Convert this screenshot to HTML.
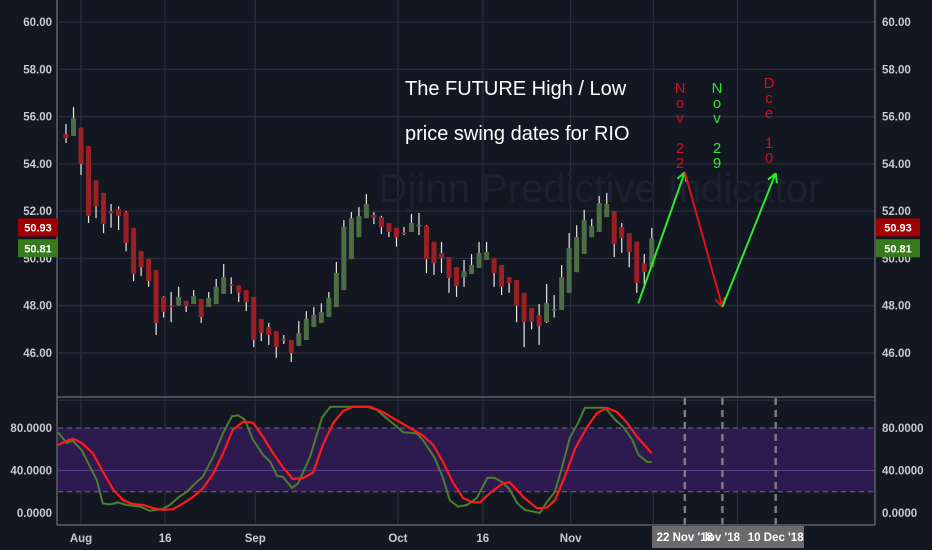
<!DOCTYPE html>
<html><head><meta charset="utf-8"><style>
html,body{margin:0;padding:0;background:#131722;}
svg{display:block;font-family:"Liberation Sans",sans-serif;}
</style></head><body>
<svg id="chart" width="932" height="550" viewBox="0 0 932 550" xmlns="http://www.w3.org/2000/svg">
<rect x="0" y="0" width="932" height="550" fill="#131722"/>
<g id="grid"></g>
<text x="600" y="202" font-size="40" fill="#1c2030" text-anchor="middle">Djinn Predictive Indicator</text>
<g id="osc-band"></g>
<g id="candles"></g>
<g id="osc"></g>
<g id="axes"></g>
<text x="405" y="95" font-size="20" fill="#ffffff">The FUTURE High / Low</text>
<text x="405" y="140" font-size="20" fill="#ffffff">price swing dates for RIO</text>
<g id="annot"></g>
</svg>
<script>
// ---- data ----
const priceTicks = [60, 58, 56, 54, 52, 50, 48, 46];
const oscTicks = [80, 40, 0];
const timeLabels = ['Aug', '16', 'Sep', 'Oct', '16', 'Nov'];
const timeLabelIdx = [2, 13.2, 25.2, 44.2, 55.5, 67.2];
const openP = [55.26,55.18,55.53,54.75,53.3,52.77,52.0,52.1,51.96,51.29,50.31,49.97,49.5,48.37,48.0,48.03,48.2,48.07,48.28,47.95,48.07,48.5,48.9,48.85,48.66,48.37,47.44,47.1,46.93,46.6,46.55,46.3,46.55,47.1,47.27,47.52,47.94,48.66,49.97,50.9,51.71,51.84,51.75,51.5,51.29,51.1,51.12,51.4,51.37,50.7,50.23,50.06,49.63,49.2,49.34,49.6,49.93,50.0,49.72,49.2,49.08,48.54,47.9,47.6,47.31,47.8,47.82,48.54,49.42,50.19,50.9,51.12,51.75,52.0,51.33,51.07,50.7,49.8,49.63];
const closeP = [55.09,55.94,54.0,51.8,52.2,51.45,51.9,51.8,50.65,49.34,49.63,49.04,47.27,47.73,47.95,48.37,47.99,48.41,47.52,48.33,48.8,49.2,48.87,48.55,48.15,46.55,46.84,46.76,46.25,46.55,46.0,46.84,47.44,47.6,47.73,48.33,49.38,51.33,51.7,51.79,52.3,51.71,51.33,51.12,50.9,51.08,51.5,51.42,49.97,49.8,50.0,49.17,48.83,49.46,49.72,50.23,50.27,49.38,48.8,48.96,47.99,47.31,47.31,47.14,48.11,47.85,49.21,50.44,50.9,51.62,51.37,52.34,52.3,50.6,50.86,50.27,48.96,49.42,50.86];
const highP = [55.69,56.4,55.53,54.75,53.3,52.77,52.3,52.2,52.0,51.29,50.31,49.97,49.5,48.4,48.58,48.8,48.2,48.66,48.28,48.58,49.13,49.76,49.2,48.85,48.66,48.37,47.44,47.27,46.93,46.76,46.55,47.35,47.77,47.94,48.1,48.58,49.85,51.62,51.96,52.17,52.72,51.96,51.8,51.5,51.29,51.33,51.88,51.92,51.4,50.7,50.7,50.06,49.63,49.93,50.18,50.7,50.7,50.0,49.72,49.2,49.08,48.54,47.9,48.07,48.92,48.45,49.72,51.07,51.4,52.05,51.67,52.64,52.77,52.0,51.5,51.07,50.7,50.18,51.29];
const lowP = [54.88,55.18,53.53,51.5,51.7,51.07,51.3,51.2,50.3,49.04,49.25,48.8,46.76,47.5,47.3,48.0,47.73,48.07,47.27,47.95,48.07,48.5,48.5,48.15,47.77,46.25,46.5,46.34,45.79,46.38,45.62,46.3,46.55,47.1,47.27,47.52,47.94,48.66,49.97,50.9,51.7,51.45,51.03,50.9,50.5,50.98,51.12,50.99,49.38,49.3,49.38,48.54,48.37,48.8,49.34,49.6,49.93,48.8,48.45,48.54,47.3,46.25,47.0,46.34,47.27,47.5,47.82,48.54,49.42,50.19,50.9,51.12,51.75,50.06,50.23,49.63,48.54,48.75,49.63];
const fastIdx = [-1.1,0.1,0.9,2.1,4.1,4.9,5.9,6.9,8.1,9.9,11.2,12.9,13.8,15.2,16.1,17.2,18.2,19.6,20.9,22.1,22.9,23.8,24.9,26.2,27.2,28.1,28.9,30.1,30.9,32.5,34.1,35.2,40.1,41.4,42.7,44.1,44.9,46.7,47.5,49.1,50.2,51.1,52.2,53.4,54.7,56.1,57.1,58.1,59.1,60.1,61.1,63.1,64.0,65.1,66.0,67.1,68.2,69.1,71.8,73.1,74.2,75.4,76.2,77.4,78.0];
const fastVal = [76,66,68,59,31,9,8,10,7.5,6,2,4,7.5,16,20,28,34,53,75,91,92,88,69,55,48,35,34,23.5,28,53,90,100,100,97,89,81,76,75,69,52,33,12,6,7.5,14,33,33,29,22,9,3,0,10,20,42,71,85,99,99,88,81,69,55,48,48];
const slowIdx = [-1.1,0.1,0.9,2.1,3.6,4.9,6.3,7.6,8.9,10.3,11.6,12.9,14.2,15.6,16.9,18.2,19.6,20.9,22.2,23.6,24.9,26.2,27.6,28.9,30.2,31.6,32.9,34.2,35.6,36.9,38.2,40.5,42.2,44.1,45.8,47.5,48.9,50.2,51.5,52.9,54.2,55.1,56.5,58.2,59.1,60.9,62.7,64.0,65.1,66.4,67.8,69.4,70.7,72.0,73.4,74.7,76.0,77.4,78.0];
const slowVal = [64,68,70,66,56,39,22,12,8.5,7.5,4.5,3,3.5,9,15,23,37,56,78,86,85,72,56,43,32,33,38,64,85,96,100,100,95,87,80,73,64,48,29,14,10,10,19,28,29,15,4.5,5,12,34,61,81,94,99,95,85,72,61,56];
const futureLabels = ['22 Nov \'18', 'lov \'18', '10 Dec \'18'];
const futureIdx = [82.4, 87.4, 94.5];
const swingPrices = [48.1, 53.65, 47.95, 53.6];
const swingIdx = [76.2, 82.4, 87.4, 94.5];

// ---- scales ----
const NS = 'http://www.w3.org/2000/svg';
const X0 = 66, STEP = 7.51;
function xs(i){ return X0 + i*STEP; }
function yp(p){ return 22 + (60 - p)*23.64; }
function yo(v){ return 513 - v*1.0625; }
function mk(tag, attrs, parent){
  const e = document.createElementNS(NS, tag);
  for (const k in attrs) e.setAttribute(k, attrs[k]);
  parent.appendChild(e); return e;
}
const grid = document.getElementById('grid');
const axes = document.getElementById('axes');
const cg = document.getElementById('candles');
const og = document.getElementById('osc');
const band = document.getElementById('osc-band');
const ann = document.getElementById('annot');

// grid
priceTicks.concat([44]).forEach(p=>{
  const l = mk('line',{x1:58,x2:875,y1:yp(p),y2:yp(p),stroke:'#2a2e3b','stroke-width':1.3},grid);
  
  
});
timeLabelIdx.concat([78.2, 89.4]).forEach(i=>{
  const l = mk('line',{x1:xs(i),x2:xs(i),y1:0,y2:525,stroke:'#2a2e3b','stroke-width':1.3},grid);
  
  
});

// oscillator band
const br = mk('rect',{x:58,y:yo(80),width:817,height:yo(20)-yo(80),fill:'#2d1a4e'},band);


[80,20].forEach(v=>{
  const l = mk('line',{x1:58,x2:875,y1:yo(v),y2:yo(v),stroke:'#6b6b78','stroke-dasharray':'5,4','stroke-width':1},band);
  
  
});
const ml = mk('line',{x1:58,x2:875,y1:yo(40),y2:yo(40),stroke:'#5a3e8a','stroke-width':1},band);


futureIdx.forEach(i=>{
  const l = mk('line',{x1:xs(i),x2:xs(i),y1:398,y2:525,stroke:'#7a7a80','stroke-dasharray':'7,5','stroke-width':2.5},band);
  
  
});

// candles
for (let i=0;i<openP.length;i++){
  const up = closeP[i] >= openP[i];
  const x = xs(i);
  const w = mk('line',{x1:x,x2:x,y1:yp(highP[i]),y2:yp(lowP[i]),stroke:'#e8e8e8','stroke-width':1.2},cg);
  
  
  const top = yp(Math.max(openP[i],closeP[i])), bot = yp(Math.min(openP[i],closeP[i]));
  const b = mk('rect',{x:x-2.5,y:top,width:5,height:Math.max(1.5,bot-top),fill:up?'#4d6e45':'#9a2024'},cg);
  
  
}

// oscillator lines
function path(idx, val){ return idx.map((i,k)=>(k?'L':'M')+xs(i).toFixed(1)+','+yo(val[k]).toFixed(1)).join(''); }
const fp = mk('path',{d:path(fastIdx,fastVal),fill:'none',stroke:'#4a7f2e','stroke-width':2},og);


const sp = mk('path',{d:path(slowIdx,slowVal),fill:'none',stroke:'#ff1a1a','stroke-width':2.2,'stroke-linejoin':'round'},og);



// axes lines
[[57,0,57,525],[875,0,875,525],[57,397,875,397],[57,525,875,525]].forEach(c=>{
  const l = mk('line',{x1:c[0],y1:c[1],x2:c[2],y2:c[3],stroke:'#5d606b','stroke-width':1.5},axes);
  
  
});
priceTicks.forEach(p=>{
  const t1 = mk('text',{x:52,y:yp(p)+4,'font-size':11.5,fill:'#c8cad0','text-anchor':'end','font-weight':'bold'},axes);
  t1.textContent = p.toFixed(2);
  
  
  const t2 = mk('text',{x:882,y:yp(p)+4,'font-size':11.5,fill:'#c8cad0','font-weight':'bold'},axes);
  t2.textContent = p.toFixed(2);
  
  
});
oscTicks.forEach(v=>{
  const t1 = mk('text',{x:52,y:yo(v)+4,'font-size':11.5,fill:'#c8cad0','text-anchor':'end','font-weight':'bold'},axes);
  t1.textContent = v.toFixed(4);
  
  
  const t2 = mk('text',{x:882,y:yo(v)+4,'font-size':11.5,fill:'#c8cad0','font-weight':'bold'},axes);
  t2.textContent = v.toFixed(4);
  
  
});
timeLabels.forEach((s,k)=>{
  const t = mk('text',{x:xs(timeLabelIdx[k]),y:542,'font-size':11.5,fill:'#c8cad0','text-anchor':'middle','font-weight':'bold'},axes);
  t.textContent = s;
  
  
});
// last price labels
[[50.93,'#a00000'],[50.81,'#3a7a1e']].forEach(a=>{
  const y = yp(a[0]);
  const off = a[0] > 50.9 ? -9 : 9;
  [[18,40],[876,44]].forEach(b=>{
    const r = mk('rect',{x:b[0],y:y+off-9,width:b[1],height:18,fill:a[1]},axes);
    
    
    const t = mk('text',{x:b[0]+b[1]/2,y:y+off+4,'font-size':11,fill:'#ffffff','text-anchor':'middle','font-weight':'bold'},axes);
    t.textContent = a[0].toFixed(2);
    
    
  });
});
// future date box
const fb = mk('rect',{x:652,y:526,width:152,height:22,fill:'#6b6b6e'},axes);


futureLabels.forEach((s,k)=>{
  const t = mk('text',{x:xs(futureIdx[k]),y:541,'font-size':11.5,fill:'#ffffff','text-anchor':'middle','font-weight':'bold'},axes);
  t.textContent = s;
  
  
});

// swing arrows
for (let k=0;k<swingIdx.length-1;k++){
  const x1=xs(swingIdx[k]), y1=yp(swingPrices[k]), x2=xs(swingIdx[k+1]), y2=yp(swingPrices[k+1]);
  const col = y2 < y1 ? '#2ee82e' : '#e0101a';
  const l = mk('line',{x1:x1,y1:y1,x2:x2,y2:y2,stroke:col,'stroke-width':2},ann);
  
  
  const a = Math.atan2(y2-y1,x2-x1);
  [0.5,-0.5].forEach(d=>{
    const h = mk('line',{x1:x2,y1:y2,x2:x2-10*Math.cos(a+d),y2:y2-10*Math.sin(a+d),stroke:col,'stroke-width':2},ann);
    
    
  });
}
// vertical date annotations
[['Nov 22',680,88,'#d0101a'],['Nov 29',717,88,'#2ee82e'],['Dce 10',769,83,'#d0101a']].forEach(a=>{
  const chars = a[0].split('');
  chars.forEach((c,j)=>{
    if(c===' ') return;
    const t = mk('text',{x:a[1],y:a[2]+j*15+5,'font-size':15,fill:a[3],'text-anchor':'middle'},ann);
    t.textContent = c;
    
    
  });
});
</script>
</body></html>
